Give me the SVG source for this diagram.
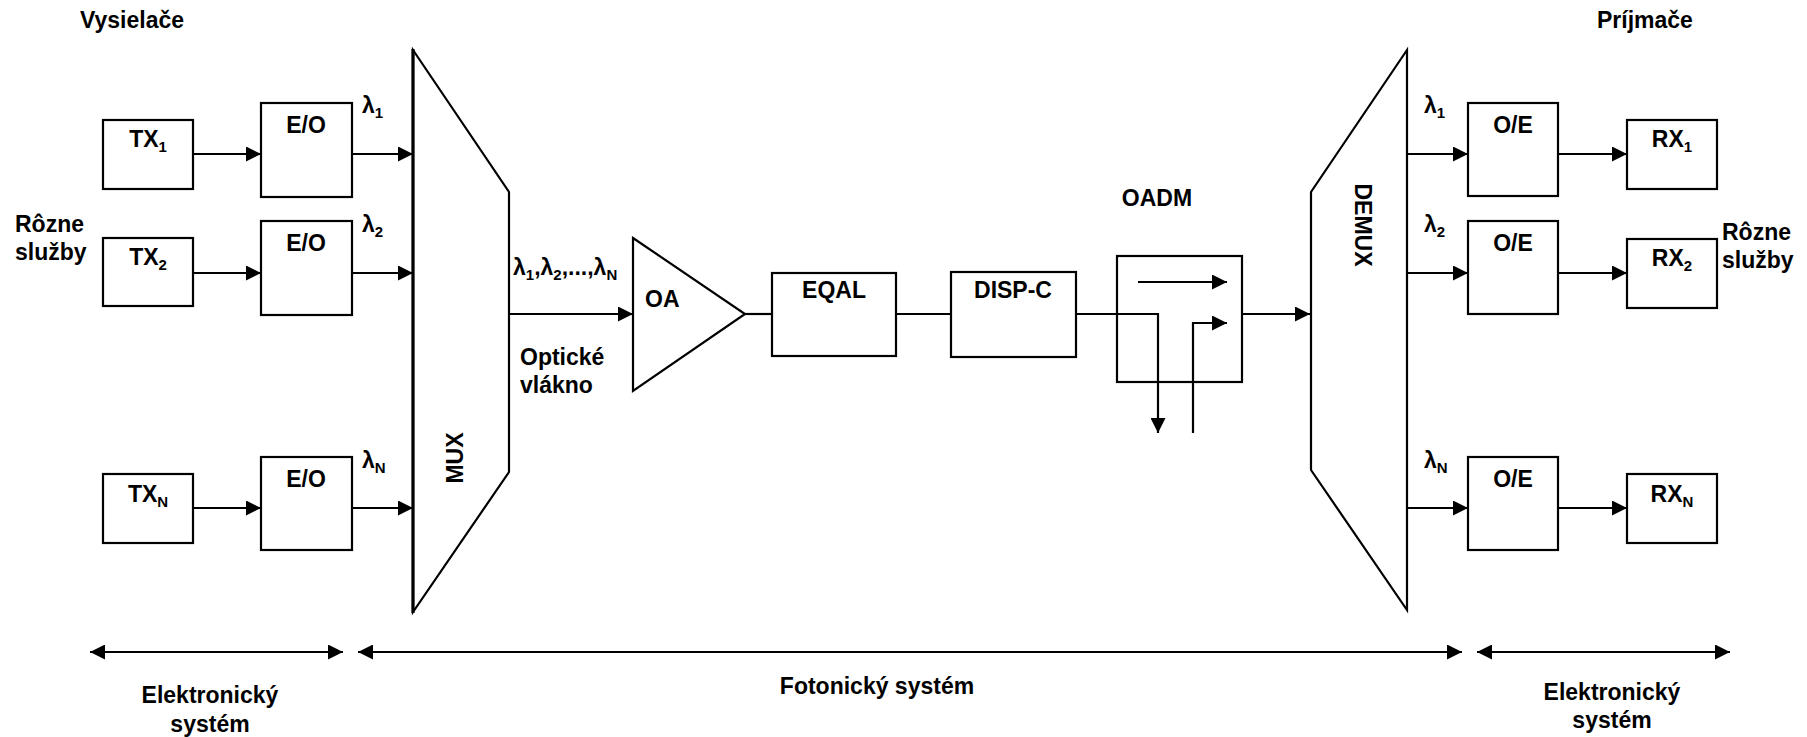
<svg xmlns="http://www.w3.org/2000/svg" width="1807" height="737" viewBox="0 0 1807 737">
<defs>
<marker id="ah" markerUnits="userSpaceOnUse" markerWidth="15" markerHeight="15" refX="15" refY="7.5" orient="auto-start-reverse" viewBox="0 0 15 15">
<path d="M0,0 L15,7.5 L0,15 z" fill="#000"/>
</marker>
</defs>
<style>
text{font-family:"Liberation Sans",Arial,sans-serif;font-weight:bold;font-size:23px;fill:#000}
.m{text-anchor:middle}
.box{fill:#fff;stroke:#000;stroke-width:2.2}
.ln{fill:none;stroke:#000;stroke-width:2.2}
.ar{fill:none;stroke:#000;stroke-width:2.2;marker-end:url(#ah)}
.da{fill:none;stroke:#000;stroke-width:2.2;marker-start:url(#ah);marker-end:url(#ah)}
.s{font-size:15px}
</style>
<rect width="1807" height="737" fill="#fff"/>

<text x="80" y="28">Vysielače</text>
<text x="1597" y="28">Príjmače</text>
<text x="15" y="232">Rôzne</text>
<text x="15" y="260">služby</text>
<text x="1722" y="240">Rôzne</text>
<text x="1722" y="268">služby</text>

<g id="connectors">
<path class="ar" d="M193,154 H261"/>
<path class="ar" d="M193,273 H261"/>
<path class="ar" d="M193,508 H261"/>
<path class="ar" d="M352,154 H413"/>
<path class="ar" d="M352,273 H413"/>
<path class="ar" d="M352,508 H413"/>
<path class="ar" d="M509,314 H633"/>
<path class="ln" d="M745,314 H772"/>
<path class="ln" d="M896,314 H951"/>
<path class="ar" d="M1076,314 H1158 V433"/>
<path class="ar" d="M1193,433 V323 H1227"/>
<path class="ar" d="M1138,282 H1227"/>
<path class="ar" d="M1242,314 H1310"/>
<path class="ar" d="M1407,154 H1468"/>
<path class="ar" d="M1407,273 H1468"/>
<path class="ar" d="M1407,508 H1468"/>
<path class="ar" d="M1558,154 H1627"/>
<path class="ar" d="M1558,273 H1627"/>
<path class="ar" d="M1558,508 H1627"/>
<path class="da" d="M90,652 H343"/>
<path class="da" d="M358,652 H1462"/>
<path class="da" d="M1477,652 H1730"/>
</g>

<g id="tx1"><rect class="box" x="103" y="120" width="90" height="69"/><text class="m" x="148" y="147">TX<tspan class="s" dy="5">1</tspan></text></g>
<g id="tx2"><rect class="box" x="103" y="238" width="90" height="68"/><text class="m" x="148" y="265">TX<tspan class="s" dy="5">2</tspan></text></g>
<g id="txn"><rect class="box" x="103" y="474" width="90" height="69"/><text class="m" x="148" y="502">TX<tspan class="s" dy="5">N</tspan></text></g>

<g id="eo1"><rect class="box" x="261" y="103" width="91" height="94"/><text class="m" x="306" y="133">E/O</text></g>
<g id="eo2"><rect class="box" x="261" y="221" width="91" height="94"/><text class="m" x="306" y="251">E/O</text></g>
<g id="eon"><rect class="box" x="261" y="457" width="91" height="93"/><text class="m" x="306" y="487">E/O</text></g>

<text x="362" y="113">λ<tspan class="s" dy="5">1</tspan></text>
<text x="362" y="232">λ<tspan class="s" dy="5">2</tspan></text>
<text x="362" y="468">λ<tspan class="s" dy="5">N</tspan></text>

<g id="mux">
<polygon points="413,50 509,192 509,472 413,612" fill="#fff" stroke="#000" stroke-width="2.2"/>
<line x1="413" y1="49" x2="413" y2="613" stroke="#000" stroke-width="3.2"/>
<text class="m" transform="translate(463,458) rotate(-90)">MUX</text>
</g>

<text x="513" y="275">λ<tspan class="s" dy="5">1</tspan><tspan dy="-5">,λ</tspan><tspan class="s" dy="5">2</tspan><tspan dy="-5">,...,λ</tspan><tspan class="s" dy="5">N</tspan></text>
<text x="520" y="365">Optické</text>
<text x="520" y="393">vlákno</text>

<g id="oa"><polygon points="633,238 745,314 633,391" fill="#fff" stroke="#000" stroke-width="2.2"/><text x="645" y="307">OA</text></g>
<g id="eqal"><rect class="box" x="772" y="273" width="124" height="83"/><text class="m" x="834" y="298">EQAL</text></g>
<g id="dispc"><rect class="box" x="951" y="272" width="125" height="85"/><text class="m" x="1013" y="298">DISP-C</text></g>

<g id="oadm">
<text class="m" x="1157" y="206">OADM</text>
<rect x="1117" y="256" width="125" height="126" fill="none" stroke="#000" stroke-width="2.2"/>
</g>

<g id="demux">
<polygon points="1407,50 1407,610 1311,470 1311,192" fill="#fff" stroke="#000" stroke-width="2.2"/>
<text class="m" transform="translate(1355,225) rotate(90)">DEMUX</text>
</g>

<text x="1424" y="113">λ<tspan class="s" dy="5">1</tspan></text>
<text x="1424" y="232">λ<tspan class="s" dy="5">2</tspan></text>
<text x="1424" y="468">λ<tspan class="s" dy="5">N</tspan></text>

<g id="oe1"><rect class="box" x="1468" y="103" width="90" height="93"/><text class="m" x="1513" y="133">O/E</text></g>
<g id="oe2"><rect class="box" x="1468" y="221" width="90" height="93"/><text class="m" x="1513" y="251">O/E</text></g>
<g id="oen"><rect class="box" x="1468" y="457" width="90" height="93"/><text class="m" x="1513" y="487">O/E</text></g>

<g id="rx1"><rect class="box" x="1627" y="120" width="90" height="69"/><text class="m" x="1672" y="147">RX<tspan class="s" dy="5">1</tspan></text></g>
<g id="rx2"><rect class="box" x="1627" y="239" width="90" height="69"/><text class="m" x="1672" y="266">RX<tspan class="s" dy="5">2</tspan></text></g>
<g id="rxn"><rect class="box" x="1627" y="474" width="90" height="69"/><text class="m" x="1672" y="502">RX<tspan class="s" dy="5">N</tspan></text></g>

<text class="m" x="210" y="703">Elektronický</text>
<text class="m" x="210" y="732">systém</text>
<text class="m" x="877" y="694">Fotonický systém</text>
<text class="m" x="1612" y="700">Elektronický</text>
<text class="m" x="1612" y="728">systém</text>
</svg>
